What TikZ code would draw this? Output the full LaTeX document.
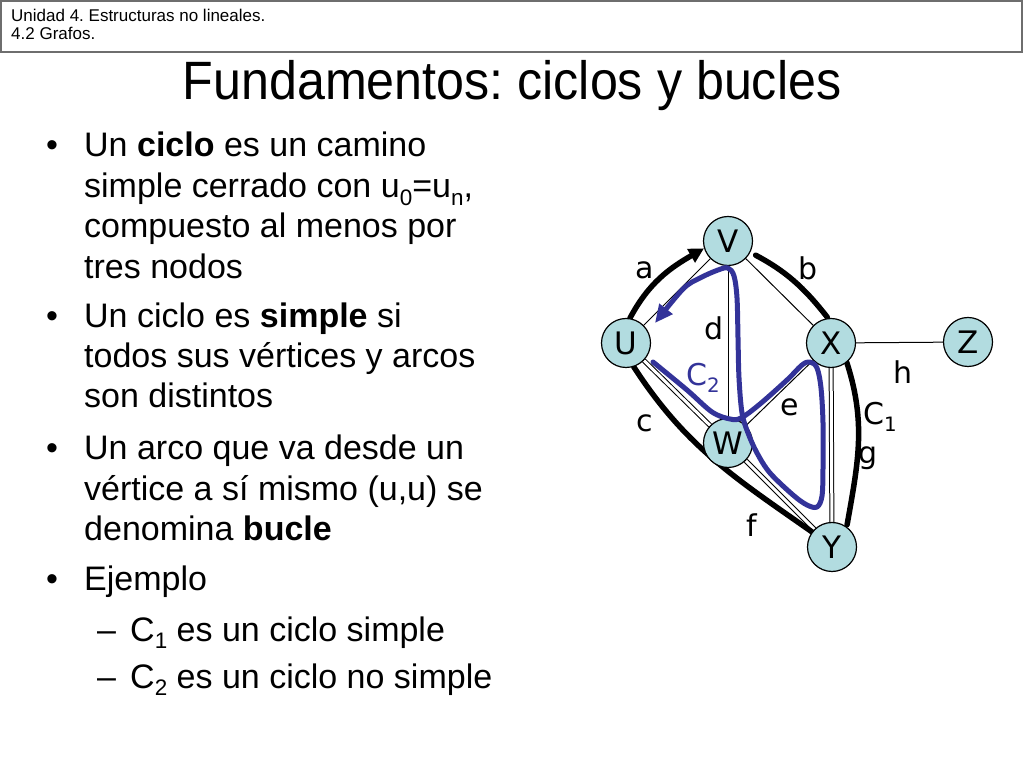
\documentclass[tikz,border=0pt]{standalone}
\usepackage{fontspec}
\usepackage{graphicx}
\setmainfont{Liberation Sans}
\newfontfamily\titlefont{Liberation Sans}[FakeStretch=0.93]
\newfontfamily\gfont{DejaVu Sans}
\usetikzlibrary{arrows.meta,calc}
\pgfdeclarelayer{bg}
\pgfsetlayers{bg,main}
\definecolor{nodefill}{RGB}{178,220,224}
\definecolor{cycblue}{RGB}{51,51,153}
\definecolor{hdrgray}{RGB}{110,110,110}
\newcommand\lowsub[1]{\raisebox{-0.22em}{\scalebox{0.66}{#1}}}
\frenchspacing
\tikzset{
  bodyline/.style={anchor=base west, inner sep=0pt, font=\fontsize{34}{40}\selectfont},
  hdrline/.style={anchor=base west, inner sep=0pt, font=\fontsize{17}{20}\selectfont},
  gnode/.style={circle, draw=black, line width=1.2pt, fill=nodefill, minimum size=49pt, inner sep=0pt, font=\gfont\fontsize{31}{35}\selectfont},
  glabel/.style={inner sep=0pt, font=\gfont\fontsize{30}{34}\selectfont},
  thinedge/.style={draw=black, line width=1pt},
  dbledge/.style={draw=black, line width=1pt, double=white, double distance=3pt},
  thickc/.style={draw=black, line width=5.5pt, line cap=round},
  bluec/.style={draw=cycblue, line width=5pt, line cap=round, line join=round}
}
\begin{document}
\begin{tikzpicture}[x=1pt,y=1pt]
\useasboundingbox (0,0) rectangle (1024,768);
\begin{pgfonlayer}{bg}
\fill[white] (0,0) rectangle (1024,768);
\end{pgfonlayer}
% header
\draw[hdrgray, line width=1.8pt] (1,767) rectangle (1022,716);
\node[hdrline] (h1) at (11,746.3) {Unidad 4. Estructuras no lineales.};
\node[hdrline] (h2) at (11,728) {4.2 Grafos.};
% title
\node[anchor=base, inner sep=0pt, font=\titlefont\fontsize{54}{60}\selectfont] (title) at (512,668) {Fundamentos: ciclos y bucles};
% bullets
\node[bodyline] (b1) at (46,611) {•};
\node[bodyline] (b2) at (46,440) {•};
\node[bodyline] (b3) at (46,308) {•};
\node[bodyline] (b4) at (46,177) {•};
\node[bodyline] (d1) at (97,127) {–};
\node[bodyline] (d2) at (97,80) {–};
\node[bodyline] (l1) at (84,611) {Un \textbf{ciclo} es un camino};
\node[bodyline] (l2) at (84,570) {simple cerrado con u\lowsub{0}=u\lowsub{n},};
\node[bodyline] (l3) at (84,530) {compuesto al menos por};
\node[bodyline] (l4) at (84,489) {tres nodos};
\node[bodyline] (l5) at (84,440) {Un ciclo es \textbf{simple} si};
\node[bodyline] (l6) at (84,400) {todos sus vértices y arcos};
\node[bodyline] (l7) at (84,360) {son distintos};
\node[bodyline] (l8) at (84,308) {Un arco que va desde un};
\node[bodyline] (l9) at (84,267) {vértice a sí mismo (u,u) se};
\node[bodyline] (l10) at (84,227) {denomina \textbf{bucle}};
\node[bodyline] (l11) at (84,177) {Ejemplo};
\node[bodyline] (l12) at (130,127) {C\lowsub{1} es un ciclo simple};
\node[bodyline] (l13) at (130,80) {C\lowsub{2} es un ciclo no simple};
% graph nodes
\node[gnode] (V) at (728,527) {V};
\node[gnode] (U) at (626,425) {U};
\node[gnode] (X) at (831,425) {X};
\node[gnode] (Z) at (968,426) {Z};
\node[gnode] (W) at (728,325) {W};
\node[gnode] (Y) at (832,221) {Y};
% edges
\begin{pgfonlayer}{bg}
\draw[thinedge] (U) -- (V);
\draw[thinedge] (V) -- (X);
\draw[thinedge] (V) -- (W);
\draw[thinedge] (W) -- (X);
\draw[thinedge] (X) -- (Z);
\draw[dbledge] (U) -- (W);
\draw[dbledge] (W) -- (Y);
\draw[dbledge] (X) -- (Y);
\draw[thickc, -{Triangle[length=15pt,width=15pt]}] (U.81) to[out=62,in=210] (V.197);
\draw[thickc, shorten <=6pt, shorten >=1pt] (V.-27) to[out=-28,in=128] (X.97);
\draw[thickc, shorten >=2pt] (X.-51) to[out=-72,in=80] (Y.54);
\draw[thickc] (U.-72) to[out=-57,in=145] (Y.143);
\end{pgfonlayer}
% C2 path
\coordinate (c2s) at (653,406);
\coordinate (c2e) at (655,445);
\draw[bluec, -{Triangle[length=18pt,width=16pt]}] plot[smooth, tension=0.55] coordinates {
 (c2s) (687,378) (712,356) (730,349) (741,350) (760,364) (787,388) (802,403) (810,406)
 (817,400) (821,380) (823,345) (823,300) (822,272) (817,261) (807,263) (793,273)
 (770,295) (757,315) (748,335) (742,355) (739,390) (738,430) (737,470) (734,492)
 (728,500) (718,498) (700,490) (683,479) (c2e)};
% labels
\node[glabel] (la) at (645,498) {a};
\node[glabel] (lb) at (808,500) {b};
\node[glabel] (ld) at (714,440) {d};
\node[glabel, text=cycblue] (lC2) at (703,390) {C\lowsub{2}};
\node[glabel] (lh) at (903,396) {h};
\node[glabel] (le) at (790,361) {e};
\node[glabel] (lC1) at (880,351) {C\lowsub{1}};
\node[glabel] (lc) at (645,345) {c};
\node[glabel] (lg) at (868,310) {g};
\node[glabel] (lf) at (752,243) {f};
\end{tikzpicture}
\end{document}
